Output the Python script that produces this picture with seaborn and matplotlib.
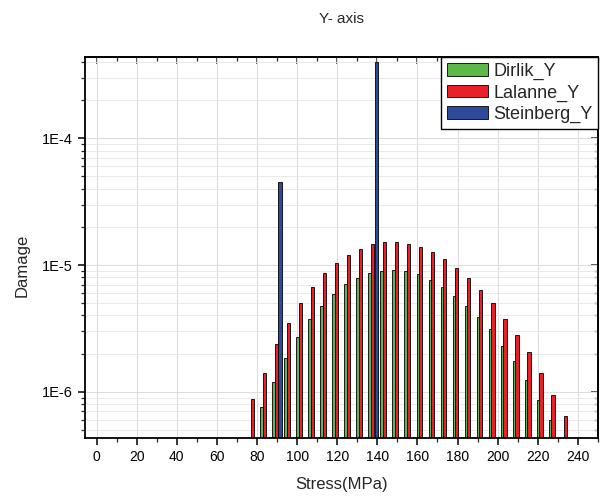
import numpy as np
import pandas as pd
import matplotlib
matplotlib.use('Agg')
import matplotlib.pyplot as plt
import seaborn as sns
from matplotlib.ticker import MultipleLocator, LogLocator, FuncFormatter, NullFormatter

# --- DATOS ---
dirlik_stress = [83, 89, 95, 101, 107, 113, 119, 125, 131, 137, 143, 149, 155,
                 161, 167, 173, 179, 185, 191, 197, 203, 209, 215, 221, 227]
dirlik_damage = [7.6e-7, 1.20e-6, 1.84e-6, 2.70e-6, 3.72e-6, 4.74e-6, 5.94e-6,
                 7.03e-6, 7.94e-6, 8.59e-6, 8.97e-6, 9.14e-6, 8.92e-6, 8.45e-6,
                 7.61e-6, 6.75e-6, 5.73e-6, 4.77e-6, 3.86e-6, 3.11e-6, 2.31e-6,
                 1.75e-6, 1.25e-6, 8.65e-7, 6.0e-7]

lalanne_stress = [77, 83, 89, 95, 101, 107, 113, 119, 125, 131, 137, 143, 149,
                  155, 161, 167, 173, 179, 185, 191, 197, 203, 209, 215, 221,
                  227, 233]
lalanne_damage = [8.7e-7, 1.40e-6, 2.38e-6, 3.47e-6, 4.99e-6, 6.75e-6, 8.59e-6,
                  1.04e-5, 1.21e-5, 1.35e-5, 1.47e-5, 1.52e-5, 1.52e-5, 1.47e-5,
                  1.38e-5, 1.26e-5, 1.11e-5, 9.41e-6, 7.89e-6, 6.38e-6, 4.99e-6,
                  3.77e-6, 2.79e-6, 2.05e-6, 1.40e-6, 9.5e-7, 6.5e-7]

steinberg_stress = [91.5, 139.5]
steinberg_damage = [4.54e-5, 4.03e-4]

x_ticks = [0, 20, 40, 60, 80, 100, 120, 140, 160, 180, 200, 220, 240]

# --- ESTILO ---
sns.set_style('white')
plt.rcParams['font.family'] = ['Liberation Sans', 'DejaVu Sans']

fig = plt.figure(figsize=(6.07, 4.98), dpi=100)
ax = fig.add_axes([0.140, 0.121, 0.845, 0.764])

bar_w = 1.6
shift = 0.65
series = [
    (dirlik_stress, dirlik_damage, -shift, 'Dirlik_Y', '#5cb947'),
    (lalanne_stress, lalanne_damage, shift, 'Lalanne_Y', '#e8202a'),
    (steinberg_stress, steinberg_damage, 0.0, 'Steinberg_Y', '#2e4b9b'),
]

for stress, damage, off, name, col in series:
    df = pd.DataFrame({'stress': np.array(stress) + off, 'damage': damage})
    sns.barplot(data=df, x='stress', y='damage', native_scale=True, orient='x',
                width=bar_w / np.diff(stress).min(), color=col, saturation=1,
                edgecolor='black', linewidth=0.6, label=name, errorbar=None, ax=ax)

ax.set_yscale('log')
ax.set_ylim(4.34e-7, 4.36e-4)
ax.set_xlim(-5.8, 250)

# ticks
ax.set_xticks(x_ticks)
ax.xaxis.set_minor_locator(MultipleLocator(10))
ax.yaxis.set_major_locator(LogLocator(base=10))
ax.yaxis.set_minor_locator(LogLocator(base=10, subs=np.arange(2, 10)))
ax.yaxis.set_major_formatter(FuncFormatter(lambda v, p: f'1E{int(round(np.log10(v)))}'))
ax.yaxis.set_minor_formatter(NullFormatter())
ax.tick_params(which='major', direction='out', length=5, width=1.1, labelsize=10,
               bottom=True, left=True, colors='black')
ax.tick_params(axis='y', which='major', labelsize=10.5)
ax.tick_params(which='minor', direction='out', length=3, width=0.9,
               bottom=True, left=True)

# ejes espejo (ticks hacia dentro)
top = ax.secondary_xaxis('top')
top.set_xticks(x_ticks)
top.xaxis.set_minor_locator(MultipleLocator(10))
top.tick_params(which='major', direction='in', length=5, width=1.1, labeltop=False)
top.tick_params(which='minor', direction='in', length=3, width=0.9)
top.spines['top'].set_linewidth(1.3)

right = ax.secondary_yaxis('right')
right.yaxis.set_major_locator(LogLocator(base=10))
right.yaxis.set_minor_locator(LogLocator(base=10, subs=np.arange(2, 10)))
right.tick_params(which='major', direction='in', length=5, width=1.1, labelright=False)
right.tick_params(which='minor', direction='in', length=3, width=0.9)
right.spines['right'].set_linewidth(1.3)

for s in ax.spines.values():
    s.set_linewidth(1.3)
    s.set_color('black')

ax.grid(which='major', axis='both', color='#dddddd', linewidth=0.8)
ax.grid(which='minor', axis='y', color='#e6e6e6', linewidth=0.6)
ax.set_axisbelow(True)

ax.set_xlabel('Stress(MPa)', fontsize=12, labelpad=10)
ax.set_ylabel('Damage', fontsize=12, va='center')
ax.yaxis.set_label_coords(-0.123, 0.454)
ax.set_title('Y- axis', fontsize=11, pad=25)

ax.legend(loc='upper right', borderaxespad=0, fancybox=False, edgecolor='black',
          framealpha=1, fontsize=13, handlelength=2.3, handleheight=0.7,
          handletextpad=0.26, labelspacing=0.25, borderpad=0.3)
ax.get_legend().get_frame().set_linewidth(1.0)

fig.savefig('out.png', dpi=100)
